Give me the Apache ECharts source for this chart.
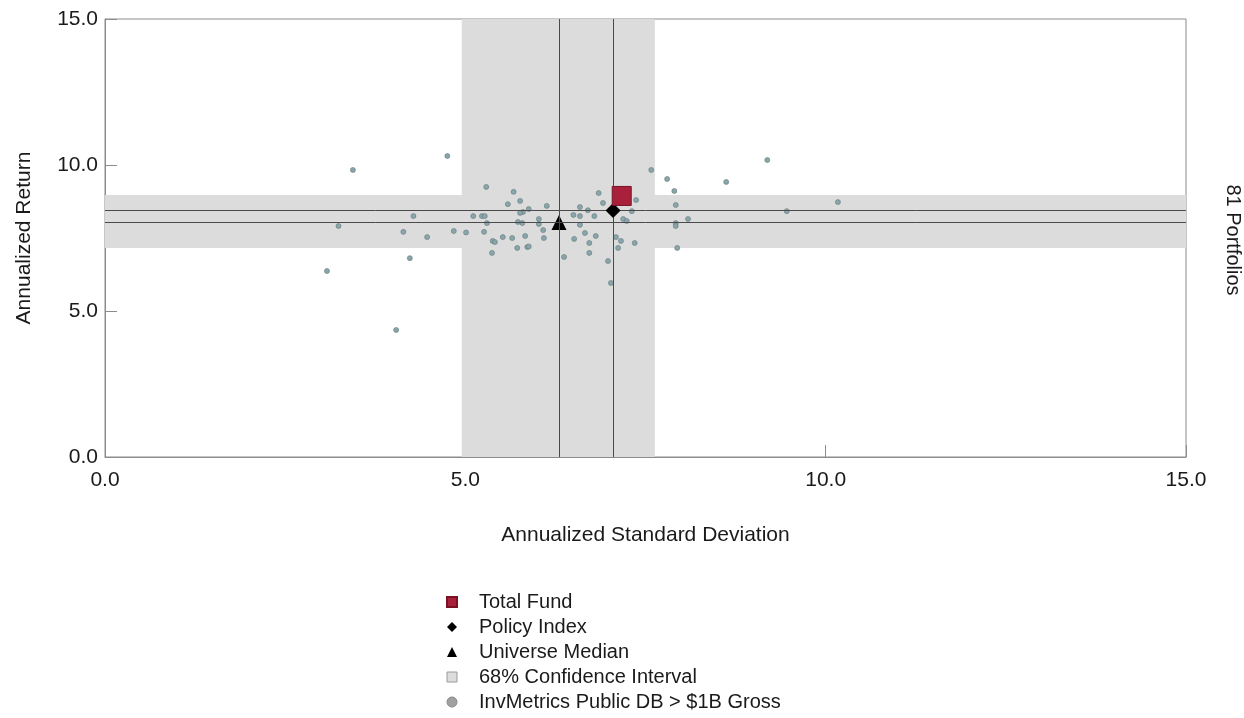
<!DOCTYPE html>
<html>
<head>
<meta charset="utf-8">
<script src="https://cdn.jsdelivr.net/npm/echarts@6/dist/echarts.min.js"></script>
<style>
html,body{margin:0;padding:0;background:#fff;}
#chart{width:1244px;height:718px;}
</style>
</head>
<body>
<div id="chart"></div>
<script>
// ---- Data ----
const xTicks = [0, 5, 10, 15];
const yTicks = [0, 5, 10, 15];
const universeStd = [4.75,3.44,5.29,4.28,5.11,5.23,5.27,3.24,5.30,4.14,4.47,4.84,5.01,5.26,5.38,5.41,5.37,4.23,3.08,4.04,
  5.67,5.76,5.59,6.13,5.88,5.80,5.76,6.02,5.73,5.79,6.02,6.08,5.52,5.65,5.83,6.09,5.86,5.88,5.72,
  7.58,6.85,7.37,6.91,6.59,6.70,7.31,6.50,6.59,6.79,7.19,7.24,6.59,6.51,6.66,6.72,6.81,7.09,7.16,7.12,7.35,6.72,6.37,6.98,7.02,
  7.80,9.19,8.62,7.90,7.92,10.17,9.46,7.92,7.92,8.09,7.94];
const universeRet = [10.31,9.83,9.25,8.25,8.25,8.25,8.25,7.91,8.01,7.71,7.53,7.74,7.69,7.71,7.40,7.36,6.99,6.81,6.37,4.35,
  9.08,8.77,8.66,8.60,8.49,8.39,8.36,8.15,8.05,8.01,7.98,7.77,7.53,7.50,7.57,7.50,7.19,7.21,7.16,
  9.83,9.04,8.80,8.70,8.56,8.45,8.42,8.29,8.25,8.25,8.15,8.08,7.95,7.47,7.67,7.33,7.57,7.53,7.40,7.16,7.33,6.99,6.85,6.71,5.96,
  9.52,10.17,9.42,9.11,8.63,8.73,8.42,8.01,7.91,8.15,7.16];
const totalFund = [7.17, 8.94];
const policyIndex = [7.05, 8.44];
const universeMedian = [6.30, 8.03];
const ciStd = [4.95, 7.63];
const ciReturn = [7.16, 8.97];
const refStdLines = [universeMedian[0], policyIndex[0]];
const refRetLines = [universeMedian[1], policyIndex[1]];
const seriesNames = ['Total Fund', 'Policy Index', 'Universe Median', '68% Confidence Interval', 'InvMetrics Public DB > $1B Gross'];
const portfolioLabel = '81 Portfolios';

// ---- Chart ----
const font = "'Liberation Sans',Arial,sans-serif";
const chart = echarts.init(document.getElementById('chart'), null, {renderer: 'canvas'});

const universePts = universeStd.map((s, i) => [s, universeRet[i]]);

chart.setOption({
  animation: false,
  backgroundColor: '#ffffff',
  grid: {left: 105, right: 58, top: 19, bottom: 261, show: true, borderColor: '#8c8c8c', borderWidth: 1, backgroundColor: 'transparent'},
  xAxis: {
    type: 'value', min: xTicks[0], max: xTicks[xTicks.length - 1], interval: 5,
    name: 'Annualized Standard Deviation', nameLocation: 'middle', nameGap: 68,
    nameTextStyle: {fontFamily: font, fontSize: 21, color: '#1a1a1a'},
    axisLine: {show: true, lineStyle: {color: '#8c8c8c'}},
    axisTick: {show: true, inside: true, length: 12, lineStyle: {color: '#8c8c8c'}},
    axisLabel: {fontFamily: font, fontSize: 21, color: '#1a1a1a', margin: 13, formatter: v => v.toFixed(1)},
    splitLine: {show: false}
  },
  yAxis: {
    type: 'value', min: yTicks[0], max: yTicks[yTicks.length - 1], interval: 5,
    name: 'Annualized Return', nameLocation: 'middle', nameGap: 70, nameRotate: 90,
    nameTextStyle: {fontFamily: font, fontSize: 21, color: '#1a1a1a'},
    axisLine: {show: true, lineStyle: {color: '#8c8c8c'}},
    axisTick: {show: true, inside: true, length: 12, lineStyle: {color: '#8c8c8c'}},
    axisLabel: {fontFamily: font, fontSize: 21, color: '#1a1a1a', margin: 7, formatter: v => v.toFixed(1)},
    splitLine: {show: false}
  },
  legend: {
    orient: 'vertical', left: 446, top: 592, padding: 0, itemGap: 5, itemWidth: 10, itemHeight: 10,
    textStyle: {fontFamily: font, fontSize: 20, color: '#1a1a1a', padding: [0, 0, 0, 17]},
    data: [
      {name: seriesNames[0], icon: 'rect', itemStyle: {color: '#a8203a'}},
      {name: seriesNames[1], icon: 'diamond', itemStyle: {color: '#000'}},
      {name: seriesNames[2], icon: 'triangle', itemStyle: {color: '#000'}},
      {name: seriesNames[3], icon: 'rect', itemStyle: {color: '#dddddd', borderColor: '#9a9a9a', borderWidth: 1}},
      {name: seriesNames[4], icon: 'circle', itemStyle: {color: '#a0a0a0', borderColor: '#888', borderWidth: 1}}
    ]
  },
  graphic: [{
    type: 'text', x: 1233, y: 240, rotation: -Math.PI / 2,
    style: {text: portfolioLabel, fontFamily: font, fontSize: 20, fill: '#1a1a1a', align: 'center', verticalAlign: 'middle'}
  }],
  series: [
    {
      name: seriesNames[3], type: 'line', data: [], z: 1, silent: true,
      itemStyle: {color: '#dddddd'},
      markArea: {
        silent: true,
        itemStyle: {color: '#dcdcdc', opacity: 1},
        data: [
          [{xAxis: ciStd[0], yAxis: yTicks[0]}, {xAxis: ciStd[1], yAxis: yTicks[yTicks.length - 1]}],
          [{xAxis: xTicks[0], yAxis: ciReturn[0]}, {xAxis: xTicks[xTicks.length - 1], yAxis: ciReturn[1]}]
        ]
      },
      markLine: {
        silent: true, symbol: 'none', label: {show: false},
        lineStyle: {color: '#4a4a4a', width: 1, type: 'solid'},
        data: refStdLines.map(v => ({xAxis: v})).concat(refRetLines.map(v => ({yAxis: v})))
      }
    },
    {
      name: seriesNames[4], type: 'scatter', z: 3, symbol: 'circle', symbolSize: 5,
      itemStyle: {color: '#88a6ab', borderColor: '#66797c', borderWidth: 0.6, opacity: 1},
      data: universePts
    },
    {
      name: seriesNames[2], type: 'scatter', z: 4, symbol: 'triangle', symbolSize: 15,
      itemStyle: {color: '#000', opacity: 1}, data: [universeMedian]
    },
    {
      name: seriesNames[1], type: 'scatter', z: 5, symbol: 'diamond', symbolSize: 15,
      itemStyle: {color: '#000', opacity: 1}, data: [policyIndex]
    },
    {
      name: seriesNames[0], type: 'scatter', z: 6, symbol: 'rect', symbolSize: 19,
      itemStyle: {color: '#a8203a', borderColor: '#7a1226', borderWidth: 1, opacity: 1}, data: [totalFund]
    }
  ]
});
</script>
</body>
</html>
